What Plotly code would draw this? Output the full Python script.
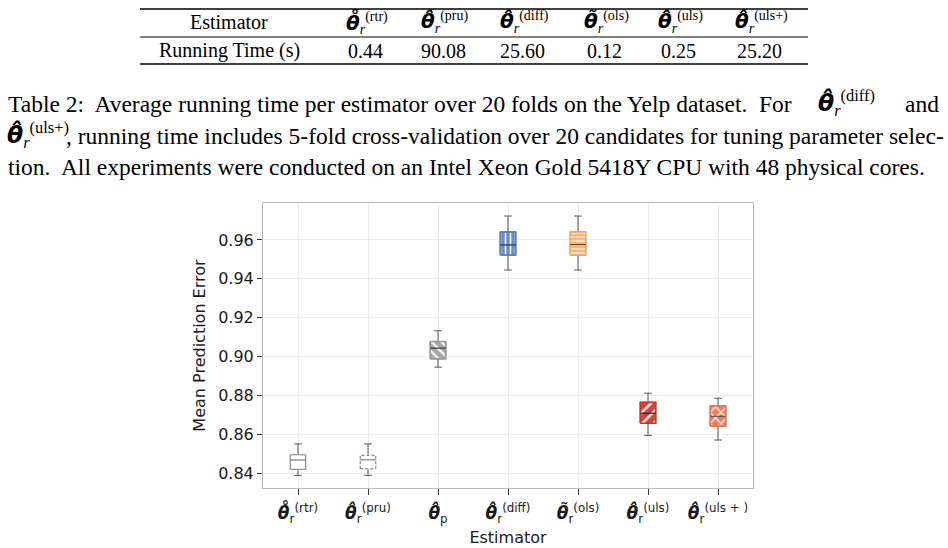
import plotly.graph_objects as go

# ---------------- data ----------------
estimator_ticks = [
    "<b><i>θ̊</i></b><sub>r</sub><sup>(rtr)</sup>",
    "<b><i>θ̂</i></b><sub>r</sub><sup>(pru)</sup>",
    "<b><i>θ̂</i></b><sub>p</sub>",
    "<b><i>θ̂</i></b><sub>r</sub><sup>(diff)</sup>",
    "<b><i>θ̃</i></b><sub>r</sub><sup>(ols)</sup>",
    "<b><i>θ̂</i></b><sub>r</sub><sup>(uls)</sup>",
    "<b><i>θ̂</i></b><sub>r</sub><sup>(uls + )</sup>",
]
lower_fence = [0.8388, 0.8388, 0.8945, 0.9445, 0.9445, 0.8594, 0.8570]
q1_vals     = [0.8419, 0.8422, 0.8988, 0.9522, 0.9522, 0.8656, 0.8642]
median_vals = [0.8467, 0.8468, 0.9043, 0.9574, 0.9576, 0.8708, 0.8692]
q3_vals     = [0.8494, 0.8491, 0.9077, 0.9641, 0.9641, 0.8764, 0.8745]
upper_fence = [0.8550, 0.8550, 0.9132, 0.9723, 0.9723, 0.8811, 0.8785]
y_ticks = [0.84, 0.86, 0.88, 0.90, 0.92, 0.94, 0.96]


def theta(acc, sup):
    return ('<span style="font-family:DejaVu Sans"><b><i>θ' + acc + '</i></b></span>'
            '<sub><i>r</i></sub><sup>(' + sup + ')</sup>')


table_estimators = [
    theta("\u030a", "rtr"),
    theta("\u0302", "pru"),
    theta("\u0302", "diff"),
    theta("\u0303", "ols"),
    theta("\u0302", "uls"),
    theta("\u0302", "uls+"),
]
running_time = [0.44, 90.08, 25.60, 0.12, 0.25, 25.20]

caption_line1 = ["Table 2:  Average running time per estimator over 20 folds on the Yelp dataset.  For",
                 theta("\u0302", "diff"), "and"]
caption_line2 = [theta("\u0302", "uls+"),
                 ", running time includes 5-fold cross-validation over 20 candidates for tuning parameter selec-"]
caption_line3 = "tion.  All experiments were conducted on an Intel Xeon Gold 5418Y CPU with 48 physical cores."

# ---------------- styles ----------------
W, H = 948, 548
L, R, T, B = 263, 195, 203, 60
PW, PH = W - L - R, H - T - B


def px(x):
    return (x - L) / PW


def py(y):
    return (H - B - y) / PH


box_styles = [
    dict(fill="white", line="#7a7a7a", dash="solid", shape="", med="#7a7a7a", size=6),
    dict(fill="white", line="#7a7a7a", dash="3px,2px", shape="", med="#7a7a7a", size=6),
    dict(fill="#a6a6a6", line="#9c9c9c", dash="solid", shape="\\", med="#333333", size=7),
    dict(fill="#6890c6", line="#5a84bd", dash="solid", shape="|", med="#2a2a2a", size=5),
    dict(fill="#fcb373", line="#f7a862", dash="solid", shape="-", med="#6b3a12", size=4),
    dict(fill="#da4238", line="#d2372d", dash="solid", shape="/", med="#222222", size=8),
    dict(fill="#f47e58", line="#ee7350", dash="solid", shape="x", med="#555555", size=8),
]
BOX_HALF = 0.11
SERIF = "Liberation Serif"
SANS = "DejaVu Sans"

fig = go.Figure()

positions = list(range(len(estimator_ticks)))

# whiskers and caps via box trace
fig.add_trace(go.Box(
    x=positions, q1=q1_vals, median=median_vals, q3=q3_vals,
    lowerfence=lower_fence, upperfence=upper_fence,
    width=2 * BOX_HALF, whiskerwidth=0.5,
    line=dict(color="#555555", width=1), fillcolor="rgba(0,0,0,0)",
    boxpoints=False, showlegend=False, hoverinfo="skip",
))

# patterned boxes drawn over the box bodies
for i, st in enumerate(box_styles):
    xs = [i - BOX_HALF, i + BOX_HALF, i + BOX_HALF, i - BOX_HALF, i - BOX_HALF]
    ys = [q1_vals[i], q1_vals[i], q3_vals[i], q3_vals[i], q1_vals[i]]
    fig.add_trace(go.Scatter(
        x=xs, y=ys, mode="lines", fill="toself", fillcolor=st["fill"],
        line=dict(color="white" if st["shape"] == "" else st["line"], width=1.6),
        showlegend=False, hoverinfo="skip",
        fillpattern=(dict(shape=st["shape"], fgcolor="white", bgcolor=st["fill"],
                          size=st["size"], solidity=0.3, fillmode="replace")
                     if st["shape"] else None),
    ))
    fig.add_trace(go.Scatter(
        x=xs, y=ys, mode="lines",
        line=dict(color=st["line"], width=1, dash=st["dash"]),
        showlegend=False, hoverinfo="skip",
    ))
    fig.add_trace(go.Scatter(
        x=[i - BOX_HALF, i + BOX_HALF], y=[median_vals[i], median_vals[i]],
        mode="lines", line=dict(color=st["med"], width=1.2),
        showlegend=False, hoverinfo="skip",
    ))

# ---------------- table & caption ----------------
annotations = []
shapes = []
TBL_X0, TBL_X1 = 140, 808
for yy, wdt in [(9, 1.6), (37, 1.0), (64, 1.6)]:
    shapes.append(dict(type="line", xref="paper", yref="paper",
                       x0=px(TBL_X0), x1=px(TBL_X1), y0=py(yy), y1=py(yy),
                       line=dict(color="black", width=wdt)))


def ann(text, x, y, xanchor="center", size=20):
    annotations.append(dict(text=text, x=px(x), y=py(y), xref="paper", yref="paper",
                            showarrow=False, xanchor=xanchor, yanchor="middle",
                            font=dict(family=SERIF, size=size, color="black")))


col_centers = [365, 443, 522, 604, 678, 759]
ann("Estimator", 229, 22)
ann("Running Time (s)", 229, 51)
for cx, head, val in zip(col_centers, table_estimators, running_time):
    ann(head, cx + 2, 22)
    ann(f"{val:.2f}", cx, 51)

CAP = 23.5
ann(caption_line1[0], 6, 104, "left", CAP)
ann(caption_line1[1], 816, 103, "left", CAP)
ann(caption_line1[2], 941, 104, "right", CAP)
ann(caption_line2[0], 5, 135, "left", CAP)
ann(caption_line2[1], 64, 136, "left", CAP)
ann(caption_line3, 6, 167, "left", CAP)

fig.update_layout(
    width=W, height=H,
    margin=dict(l=L, r=R, t=T, b=B, pad=0),
    paper_bgcolor="white", plot_bgcolor="white",
    annotations=annotations, shapes=shapes,
    showlegend=False,
    xaxis=dict(
        range=[-0.5, 6.5], tickvals=positions, ticktext=estimator_ticks,
        automargin=False,
        showgrid=True, gridcolor="#ebebeb", gridwidth=1, zeroline=False,
        ticks="outside", ticklen=6, tickcolor="#333333", tickwidth=1,
        ticklabelstandoff=4,
        showline=True, linecolor="#bdbdbd", linewidth=1, mirror=True,
        tickfont=dict(family=SANS, size=17, color="#1a1a1a"),
        title=dict(text="Estimator", font=dict(family=SANS, size=16, color="#1a1a1a"), standoff=6),
    ),
    yaxis=dict(
        range=[0.8323, 0.979], tickvals=y_ticks, tickformat=".2f",
        automargin=False,
        showgrid=True, gridcolor="#ebebeb", gridwidth=1, zeroline=False,
        ticks="outside", ticklen=5, tickcolor="#333333", tickwidth=1,
        showline=True, linecolor="#bdbdbd", linewidth=1, mirror=True,
        tickfont=dict(family=SANS, size=16, color="#1a1a1a"),
        title=dict(text="Mean Prediction Error", font=dict(family=SANS, size=16, color="#1a1a1a"), standoff=8),
    ),
)

fig.write_html("out.html")
